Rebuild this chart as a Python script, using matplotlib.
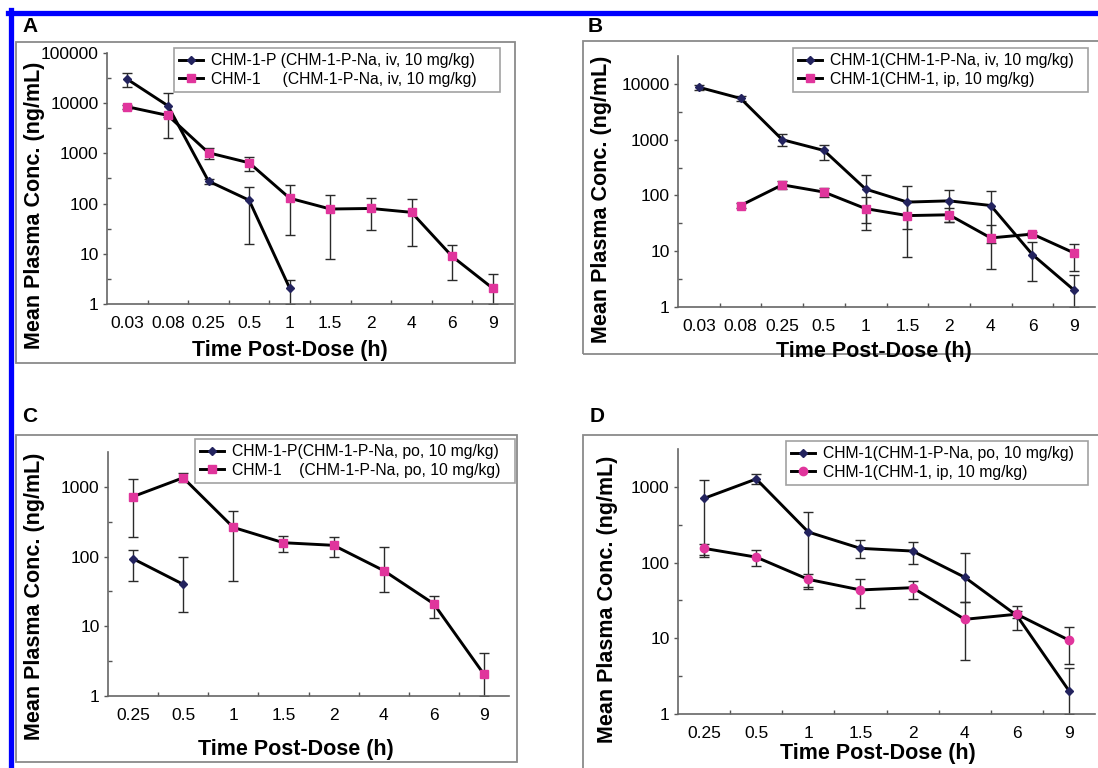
import numpy as np
import matplotlib
matplotlib.use("Agg")
import matplotlib.pyplot as plt
from matplotlib.lines import Line2D
from matplotlib.patches import Rectangle
from matplotlib.ticker import NullFormatter

plt.rcParams["font.family"] = ["Liberation Sans", "DejaVu Sans"]

nan = np.nan

# time points (categorical x axis)
times_ab = ["0.03", "0.08", "0.25", "0.5", "1", "1.5", "2", "4", "6", "9"]
times_cd = ["0.25", "0.5", "1", "1.5", "2", "4", "6", "9"]

# panel A
a_prod = [30000, 8900, 280, 117, 2.06, nan, nan, nan, nan, nan]
a_prod_lo = [21000, 2000, 250, 16, 1.0, nan, nan, nan, nan, nan]
a_prod_hi = [40000, 15800, 310, 215, 3.0, nan, nan, nan, nan, nan]
a_drug = [8500, 5700, 1030, 650, 128, 78, 80, 67, 8.9, 2.06]
a_drug_lo = [7800, 5200, 780, 440, 23.5, 8, 30, 14, 3.0, 1.0]
a_drug_hi = [9300, 6300, 1300, 830, 240, 147, 130, 124, 14.7, 4.0]

# panel B
b_iv = [8700, 5500, 1000, 640, 130, 76, 80, 66, 8.7, 2.0]
b_iv_lo = [7900, 4900, 770, 435, 32, 25, 34, 14, 2.9, 1.0]
b_iv_hi = [9500, 6100, 1250, 810, 228, 149, 126, 118, 14.4, 3.8]
b_ip = [nan, 66, 155, 115, 58, 43.5, 45, 17.3, 20.3, 9.3]
b_ip_lo = [nan, 60, 130, 92, 24, 8, 33, 4.9, 18.5, 4.5]
b_ip_hi = [nan, 72, 178, 135, 92, 80, 59, 30, 22, 13.6]

# panel C
c_prod = [93, 40, nan, nan, nan, nan, nan, nan]
c_prod_lo = [44, 15.8, nan, nan, nan, nan, nan, nan]
c_prod_hi = [123, 100, nan, nan, nan, nan, nan, nan]
c_drug = [725, 1350, 262, 158, 145, 63, 21, 2.05]
c_drug_lo = [190, 1170, 45, 115, 100, 31, 13, 1.0]
c_drug_hi = [1290, 1560, 455, 196, 192, 135, 27.6, 4.2]

# panel D
d_po = [705, 1270, 253, 154, 142, 64, 20, 2.03]
d_po_lo = [118, 1100, 47, 114, 95, 30, 13, 1.0]
d_po_hi = [1250, 1480, 460, 196, 188, 132, 27, 4.06]
d_ip = [154, 118, 60, 43.5, 46.6, 17.8, 20.8, 9.45]
d_ip_lo = [126, 90, 44.5, 25.4, 32.8, 5.1, 18.5, 4.6]
d_ip_hi = [178, 145, 71, 61.5, 57, 30.5, 23, 14.3]

NAVY = "#23235e"
PINK = "#e0359c"
GRAY = "#8a8a8a"

W, H = 1098, 768
fig = plt.figure(figsize=(W / 100, H / 100), dpi=100)


def fx(x):
    return x / W


def fy(y):
    return 1 - y / H


def draw_series(ax, y, lo, hi, color, marker, ms, label):
    y = np.array(y, dtype=float)
    lo = np.array(lo, dtype=float)
    hi = np.array(hi, dtype=float)
    x = np.arange(len(y))
    ok = ~np.isnan(y)
    ax.errorbar(x[ok], y[ok], yerr=[y[ok] - lo[ok], hi[ok] - y[ok]],
                fmt="none", ecolor="#2a2a2a", elinewidth=1.0, capsize=3.5,
                capthick=1.0, zorder=2)
    ax.plot(x, y, color="black", lw=2.1, marker=marker, ms=ms,
            mfc=color, mec=color, label=label, zorder=3)


def panel(box, frame, letter, ltr_xy, times, top, series, leg_box,
          ylab_xy, xlab_xy):
    l, t, r, b = box
    fig.add_artist(Rectangle((fx(frame[0]), fy(frame[3])),
                             fx(frame[2] - frame[0]), (frame[3] - frame[1]) / H,
                             transform=fig.transFigure, fill=False,
                             edgecolor=GRAY, lw=1.3))
    ax = fig.add_axes([fx(l), fy(b), fx(r - l), (b - t) / H])
    for s in series:
        draw_series(ax, *s)
    n = len(times)
    ax.set_yscale("log")
    ax.set_ylim(1, top)
    ax.set_xlim(-0.5, n - 0.5)
    ndec = int(np.floor(np.log10(top) + 1e-9))
    major = [10 ** k for k in range(ndec + 1)]
    minor = [10 ** (k + 0.5) for k in range(ndec) if 10 ** (k + 0.5) < top * 0.99]
    ax.set_yticks(major, labels=[str(v) for v in major])
    ax.set_yticks(minor, minor=True)
    ax.yaxis.set_minor_formatter(NullFormatter())
    ax.set_xticks(range(n), labels=times)
    ax.set_xticks(np.arange(0.5, n - 1, 1.0), minor=True)
    ax.tick_params(axis="y", which="major", direction="out", length=3,
                   width=1, color="#555555", labelsize=12.5, pad=3)
    ax.tick_params(axis="y", which="minor", direction="in", length=3,
                   width=1, color="#555555")
    ax.tick_params(axis="x", which="major", length=0, labelsize=12.5, pad=9)
    ax.tick_params(axis="x", which="minor", direction="in", length=3,
                   width=1, color="#555555")
    for side in ["top", "right"]:
        ax.spines[side].set_visible(False)
    for side in ["left", "bottom"]:
        ax.spines[side].set_color("#666666")
        ax.spines[side].set_linewidth(1.2)
    ax.patch.set_alpha(0)

    lx0, ly0, lx1, ly1 = leg_box
    leg = ax.legend(loc="upper left", mode="expand",
                    bbox_to_anchor=(fx(lx0), fy(ly1), fx(lx1 - lx0), (ly1 - ly0) / H),
                    bbox_transform=fig.transFigure, borderaxespad=0,
                    fontsize=11.3, frameon=True, fancybox=False, handlelength=1.5,
                    handletextpad=0.5, labelspacing=0.2, borderpad=0.35)
    leg.get_frame().set_edgecolor(GRAY)
    leg.get_frame().set_linewidth(1.2)

    fig.text(fx(ltr_xy[0]), fy(ltr_xy[1]), letter, fontsize=15,
             fontweight="bold", ha="center", va="center")
    fig.text(fx(ylab_xy[0]), fy(ylab_xy[1]), "Mean Plasma Conc. (ng/mL)",
             fontsize=15.5, fontweight="bold", rotation=90,
             ha="center", va="center")
    fig.text(fx(xlab_xy[0]), fy(xlab_xy[1]), "Time Post-Dose (h)",
             fontsize=15.5, fontweight="bold", ha="center", va="center")
    return ax


panel((107, 53, 513, 304), (16, 42, 515, 363), "A", (30, 26), times_ab, 1e5,
      [(a_prod, a_prod_lo, a_prod_hi, NAVY, "D", 4.5,
        "CHM-1-P (CHM-1-P-Na, iv, 10 mg/kg)"),
       (a_drug, a_drug_lo, a_drug_hi, PINK, "s", 6,
        "CHM-1     (CHM-1-P-Na, iv, 10 mg/kg)")],
      (174, 48, 500, 93), (35, 205), (290, 350))

panel((678, 56, 1095, 307), (583, 41, 1110, 354), "B", (595, 26), times_ab, 10 ** 4.5,
      [(b_iv, b_iv_lo, b_iv_hi, NAVY, "D", 4.5,
        "CHM-1(CHM-1-P-Na, iv, 10 mg/kg)"),
       (b_ip, b_ip_lo, b_ip_hi, PINK, "s", 6,
        "CHM-1(CHM-1, ip, 10 mg/kg)")],
      (793, 48, 1088, 96), (602, 199), (874, 351))

panel((108, 452, 509, 696), (16, 435, 517, 762), "C", (30, 417), times_cd, 10 ** 3.5,
      [(c_prod, c_prod_lo, c_prod_hi, NAVY, "D", 4.5,
        "CHM-1-P(CHM-1-P-Na, po, 10 mg/kg)"),
       (c_drug, c_drug_lo, c_drug_hi, PINK, "s", 6,
        "CHM-1    (CHM-1-P-Na, po, 10 mg/kg)")],
      (195, 439, 515, 482), (35, 596), (296, 750))

panel((678, 449, 1095, 714), (583, 435, 1110, 780), "D", (597, 416), times_cd, 10 ** 3.5,
      [(d_po, d_po_lo, d_po_hi, NAVY, "D", 4.5,
        "CHM-1(CHM-1-P-Na, po, 10 mg/kg)"),
       (d_ip, d_ip_lo, d_ip_hi, PINK, "o", 6,
        "CHM-1(CHM-1, ip, 10 mg/kg)")],
      (786, 441, 1088, 484), (608, 599), (878, 754))

# blue border on top and left
fig.add_artist(Line2D([fx(8), fx(1098)], [fy(12.5), fy(12.5)],
                      transform=fig.transFigure, color="#0000ff", lw=3.8))
fig.add_artist(Line2D([fx(10.5), fx(10.5)], [fy(10), fy(768)],
                      transform=fig.transFigure, color="#0000ff", lw=3.8))

fig.savefig("out.png", dpi=100)
